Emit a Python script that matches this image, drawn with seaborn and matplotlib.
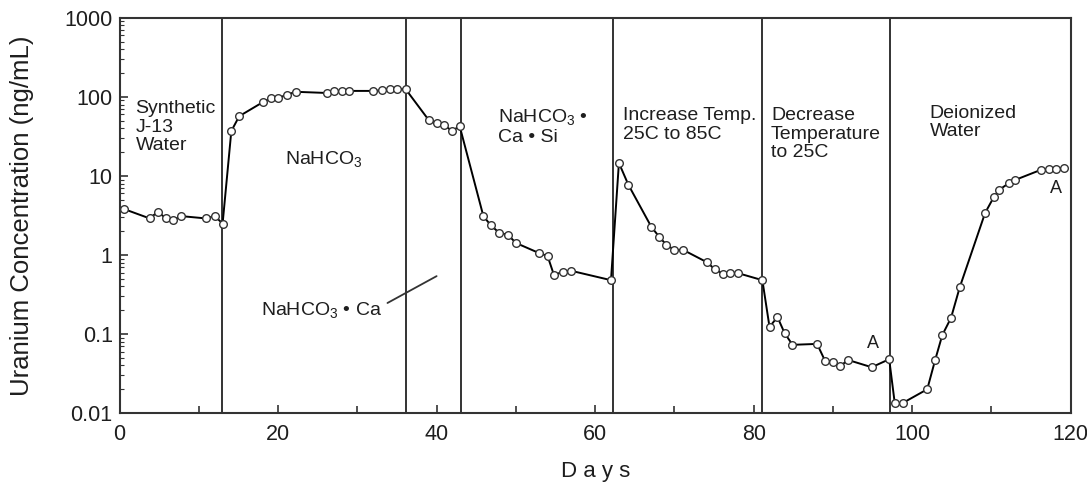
import matplotlib
matplotlib.use("Agg")
import matplotlib.pyplot as plt
import matplotlib.ticker as mticker
import seaborn as sns
import pandas as pd

# days since start of the column test
days = [0.6, 3.8, 4.8, 5.9, 6.8, 7.8, 10.9, 12.0, 13.0,
        14.1, 15.1, 18.1, 19.1, 20.0, 21.1, 22.2, 26.2, 27.0, 28.1, 29.0, 32.0, 33.1, 34.1, 35.0, 36.1,
        39.0, 40.0, 40.9, 42.0, 42.9,
        45.9, 46.8, 47.9, 49.0, 50.0, 52.9, 54.0, 54.8, 55.9, 57.0, 62.0,
        63.0, 64.2, 67.1, 68.1, 69.0, 70.0, 71.1, 74.1, 75.1, 76.1, 77.0, 78.0, 81.1,
        82.0, 83.0, 83.9, 84.9, 88.0, 89.0, 90.0, 90.9, 91.9, 94.9, 97.1,
        97.8, 98.8, 101.9, 102.9, 103.8, 104.9, 106.0, 109.2, 110.3, 111.0, 112.2, 113.0,
        116.2, 117.3, 118.2, 119.2]
# uranium concentration, ng/mL
conc = [3.8, 2.9, 3.5, 2.9, 2.8, 3.1, 2.9, 3.1, 2.5,
        37, 57, 86, 97, 97, 106, 116, 112, 119, 119, 119, 119, 121, 125, 125, 125,
        51, 47, 44, 37, 43,
        3.1, 2.4, 1.9, 1.8, 1.42, 1.06, 0.97, 0.56, 0.61, 0.63, 0.48,
        14.6, 7.7, 2.26, 1.69, 1.34, 1.16, 1.16, 0.81, 0.66, 0.58, 0.6, 0.59, 0.48,
        0.123, 0.164, 0.103, 0.073, 0.075, 0.046, 0.044, 0.039, 0.047, 0.038, 0.048,
        0.0134, 0.0134, 0.020, 0.047, 0.097, 0.16, 0.39, 3.4, 5.4, 6.7, 8.1, 8.9,
        11.9, 12.2, 12.4, 12.6]

# solution changes (days)
boundaries = [12.9, 36.2, 43.1, 62.2, 81.1, 97.2]

phase_labels = ["Synthetic\nJ-13\nWater",
                "NaHCO$_\\mathrm{3}$",
                "NaHCO$_\\mathrm{3}$ \u2022\nCa \u2022 Si",
                "Increase Temp.\n25C to 85C",
                "Decrease\nTemperature\nto 25C",
                "Deionized\nWater"]
phase_x = [2.0, 20.9, 47.7, 63.5, 82.2, 102.2]
phase_y = [90, 22, 74, 74, 74, 80]

ca_label = "NaHCO$_\\mathrm{3}$ \u2022 Ca"
ca_leader_x = [33.8, 40.0]
ca_leader_y = [0.247, 0.54]

a_x = [95.0, 118.1]
a_y = [0.075, 7.0]

yticks = [0.01, 0.1, 1, 10, 100, 1000]
ytick_labels = ["0.01", "0.1", "1", "10", "100", "1000"]

sns.set_theme(style="white")
plt.rcParams["font.family"] = ["Liberation Sans", "DejaVu Sans"]
plt.rcParams["mathtext.fontset"] = "custom"
plt.rcParams["mathtext.rm"] = "Liberation Sans"
plt.rcParams["mathtext.it"] = "Liberation Sans:italic"
plt.rcParams["mathtext.bf"] = "Liberation Sans:bold"

ink = "#1e1e1e"

fig, ax = plt.subplots(figsize=(10.87, 4.82), dpi=100)
fig.subplots_adjust(left=0.110, right=0.985, bottom=0.143, top=0.963)

df = pd.DataFrame({"Days": days, "conc": conc})
sns.lineplot(data=df, x="Days", y="conc", ax=ax, estimator=None, sort=False,
             color="black", lw=1.4, marker="o", markersize=5.5,
             markerfacecolor="white", markeredgecolor="#333333", markeredgewidth=1.0,
             zorder=3)

for b in boundaries:
    ax.axvline(b, color="#333333", lw=1.4, zorder=2)

ax.set_yscale("log")
ax.set_ylim(0.01, 1000)
ax.set_xlim(0, 120)
ax.set_yticks(yticks)
ax.set_yticklabels(ytick_labels)
ax.yaxis.set_minor_locator(mticker.LogLocator(base=10, subs=range(2, 10), numticks=20))
ax.yaxis.set_minor_formatter(mticker.NullFormatter())
ax.xaxis.set_major_locator(mticker.MultipleLocator(20))
ax.xaxis.set_minor_locator(mticker.MultipleLocator(10))

ax.tick_params(axis="both", which="both", direction="in", color="#333333",
               left=True, bottom=True, right=False, top=False)
ax.tick_params(axis="both", which="major", length=6, width=1.2, labelsize=15.5,
               labelcolor=ink)
ax.tick_params(axis="x", which="major", pad=8)
ax.tick_params(axis="y", which="major", pad=5)
ax.tick_params(axis="y", which="minor", length=3, width=0.8)
ax.tick_params(axis="x", which="minor", length=5, width=1.2)

for s in ax.spines.values():
    s.set_color("#333333")
    s.set_linewidth(1.5)

for lab, x, y in zip(phase_labels, phase_x, phase_y):
    ax.text(x, y, lab, fontsize=14, color=ink, ha="left", va="top", linespacing=1.1)

ax.text(33.2, 0.2, ca_label, fontsize=14, color=ink, ha="right", va="center")
ax.plot(ca_leader_x, ca_leader_y, color="#333333", lw=1.3)

for x, y in zip(a_x, a_y):
    ax.text(x, y, "A", fontsize=13, color=ink, ha="center", va="center")

ax.set_xlabel("D a y s", fontsize=16, color=ink, va="center")
ax.xaxis.set_label_coords(0.5, -0.149)
ax.set_ylabel("Uranium Concentration (ng/mL)", fontsize=18.5, color=ink, va="center")
ax.yaxis.set_label_coords(-0.103, 0.5)

fig.savefig("out.png", dpi=100)
